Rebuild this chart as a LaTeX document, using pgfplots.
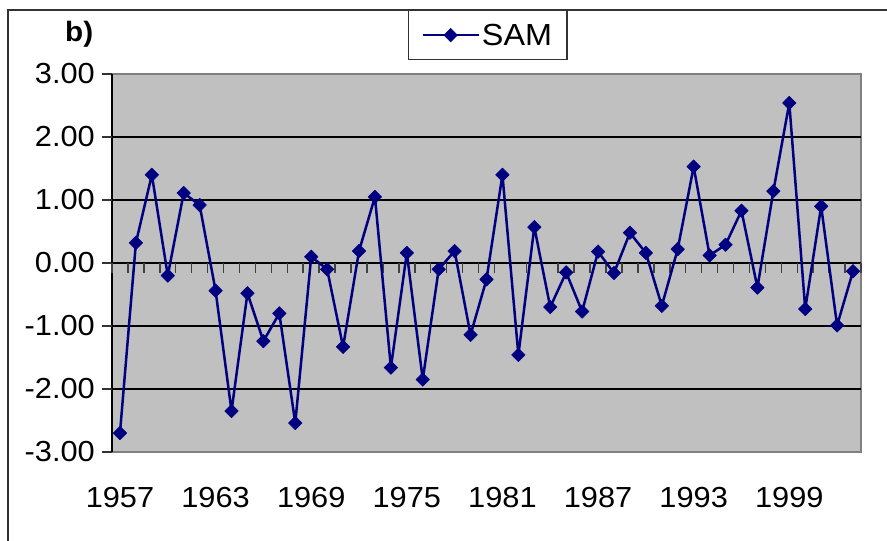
\documentclass[border=0pt]{standalone}
\usepackage{pgfplots}
\pgfplotsset{compat=1.18}
\usepackage{fontspec}
\setmainfont{Liberation Sans}[FakeStretch=1.06]
\definecolor{plotbg}{HTML}{C0C0C0}
\definecolor{navyc}{HTML}{000080}
\definecolor{bordergray}{HTML}{808080}
\begin{document}
\begin{tikzpicture}[x=1pt,y=1pt]
\path[use as bounding box] (0,0) rectangle (887,541);
\draw[line width=2pt, black!80] (8,0) -- (8,531) -- (887,531);
\node[font=\fontsize{28}{32}\selectfont\bfseries, anchor=base west, inner sep=0pt] at (65,499) {b)};
\begin{axis}[
 at={(112pt,89pt)}, anchor=south west,
 width=749pt, height=378pt, scale only axis,
 xmin=1956.5, xmax=2003.5, ymin=-3, ymax=3,
 axis background/.style={fill=plotbg, draw=bordergray, line width=2.4pt},
 axis x line*=bottom, axis y line*=left,
 x axis line style={draw=bordergray, line width=2.4pt, -},
 y axis line style={draw=black, line width=2pt, -},
 ytick={-3,-2,-1,0,1,2,3},
 yticklabels={-3.00,-2.00,-1.00,0.00,1.00,2.00,3.00},
 extra y ticks={-2,-1,1,2}, extra y tick labels={},
 extra y tick style={grid=major, major grid style={black, line width=1.2pt}},
 xtick={1957,1963,1969,1975,1981,1987,1993,1999},
 xticklabels={1957,1963,1969,1975,1981,1987,1993,1999},
 tick align=outside, major tick length=10pt,
 ytick style={draw=black!80, line width=1.5pt},
 xtick style={draw=none},
 ticklabel style={font=\fontsize{29}{33}\selectfont},
 yticklabel style={inner sep=0pt, xshift=-7pt},
 xticklabel style={inner sep=0pt, anchor=north, yshift=-25pt},
 legend style={at={(0.395,1.169)}, anchor=north west, draw=black!80, line width=1.2pt, fill=white,
   font=\fontsize{30.5}{34}\selectfont, inner xsep=13pt, inner ysep=11pt},
 legend image code/.code={\draw[mark repeat=2, mark phase=2, #1] plot coordinates {(0pt,0pt) (28pt,0pt) (56pt,0pt)};},
 clip=false,
]
\draw[black, line width=2pt] (axis cs:1956.5,0) -- (axis cs:2003.5,0);
\pgfplotsinvokeforeach{0,...,47}{
  \draw[black!75, line width=1.5pt] (axis cs:{1956.5+#1},0) -- ++(0pt,-10pt);
}
\addplot[navyc, line width=2.5pt, line join=round, mark=square*, mark size=4.8pt,
  mark options={rotate=45, solid, fill=navyc, line width=0.5pt}] table {
x y
1957 -2.70
1958 0.32
1959 1.40
1960 -0.20
1961 1.11
1962 0.92
1963 -0.44
1964 -2.35
1965 -0.48
1966 -1.24
1967 -0.80
1968 -2.54
1969 0.10
1970 -0.10
1971 -1.33
1972 0.19
1973 1.05
1974 -1.66
1975 0.16
1976 -1.85
1977 -0.10
1978 0.19
1979 -1.14
1980 -0.26
1981 1.40
1982 -1.46
1983 0.57
1984 -0.70
1985 -0.15
1986 -0.77
1987 0.18
1988 -0.16
1989 0.48
1990 0.16
1991 -0.68
1992 0.22
1993 1.53
1994 0.12
1995 0.29
1996 0.83
1997 -0.39
1998 1.14
1999 2.54
2000 -0.73
2001 0.90
2002 -0.99
2003 -0.13
};
\addlegendentry{SAM}
\end{axis}
\end{tikzpicture}
\end{document}
